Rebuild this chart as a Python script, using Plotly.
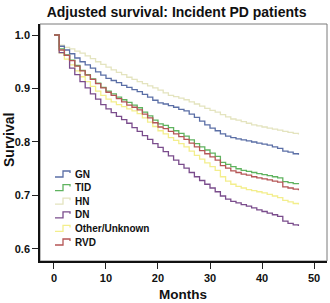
import plotly.graph_objects as go

months = list(range(0, 48))

surv_gn = [1.000, .979, .972, .965, .957, .950, .944, .938, .931, .925, .919, .915, .911, .906, .902, .898,
           .894, .889, .884, .878, .873, .871, .868, .865, .861, .858, .852, .846, .839, .832, .826, .821,
           .815, .811, .808, .806, .804, .802, .800, .798, .796, .794, .791, .788, .783, .781, .778, .776]
surv_tid = [1.000, .974, .963, .953, .943, .934, .926, .918, .910, .902, .895, .890, .884, .879, .874, .869,
            .864, .856, .849, .841, .834, .831, .827, .821, .816, .811, .804, .797, .791, .785, .779, .773,
            .762, .758, .754, .750, .747, .745, .743, .741, .739, .737, .735, .733, .726, .724, .722, .721]
surv_hn = [1.000, .981, .977, .974, .970, .966, .961, .956, .950, .945, .940, .935, .930, .926, .921, .917,
           .913, .909, .905, .901, .897, .892, .887, .885, .882, .879, .875, .871, .867, .863, .859, .856,
           .851, .847, .843, .841, .838, .835, .832, .830, .828, .826, .824, .822, .820, .818, .816, .814]
surv_dn = [1.000, .967, .962, .938, .926, .913, .901, .890, .880, .870, .862, .855, .848, .842, .835, .827,
           .820, .812, .805, .797, .790, .782, .774, .766, .758, .751, .743, .735, .728, .721, .714, .707,
           .699, .693, .689, .686, .683, .680, .677, .673, .670, .667, .664, .661, .652, .648, .645, .643]
surv_other = [1.000, .966, .955, .944, .933, .922, .913, .904, .895, .887, .880, .875, .870, .866, .862, .858,
              .853, .845, .837, .829, .821, .815, .808, .803, .797, .791, .783, .775, .768, .761, .754, .747,
              .735, .727, .721, .717, .714, .711, .709, .707, .705, .702, .699, .696, .691, .688, .685, .683]
surv_rvd = [1.000, .972, .962, .952, .942, .933, .925, .917, .909, .901, .893, .887, .881, .875, .869, .865,
            .860, .852, .845, .836, .828, .825, .820, .815, .810, .805, .798, .791, .784, .778, .772, .766,
            .756, .751, .746, .743, .740, .738, .735, .733, .731, .729, .727, .725, .716, .714, .712, .710]

group_names = ["GN", "TID", "HN", "DN", "Other/Unknown", "RVD"]
group_values = [surv_gn, surv_tid, surv_hn, surv_dn, surv_other, surv_rvd]
group_colors = ["#5b6fa6", "#5fb35f", "#e4e4bf", "#7a4c8c", "#f3ee8c", "#b55656"]

y_ticks = [0.6, 0.7, 0.8, 0.9, 1.0]
x_ticks = [0, 10, 20, 30, 40, 50]

W, H = 330, 303
ML, MR, MT, MB = 40, 3, 24, 42
PW, PH = W - ML - MR, H - MT - MB

fig = go.Figure()
draw_order = [2, 0, 4, 3, 1, 5]
for i in draw_order:
    fig.add_trace(go.Scatter(
        x=months, y=group_values[i], mode="lines", name=group_names[i],
        line=dict(color=group_colors[i], width=1.3, shape="hv"),
        showlegend=False,
    ))

def px_x(p):
    return (p - ML) / PW

def px_y(p):
    return (H - MB - p) / PH

shapes = [dict(type="rect", xref="paper", yref="paper", x0=0, x1=1, y0=0, y1=1,
               line=dict(color="#7a7a7a", width=1), layer="below")]
annotations = []
# compact legend with step-shaped symbols
for k, (nm, col) in enumerate(zip(group_names, group_colors)):
    yc = 174 + k * 13.6
    path = "M {a},{b} L {c},{b} L {c},{d} L {e},{d} L {e},{f}".format(
        a=px_x(55), b=px_y(yc + 3), c=px_x(63), d=px_y(yc - 3), e=px_x(70), f=px_y(yc - 1))
    shapes.append(dict(type="path", xref="paper", yref="paper", path=path,
                       line=dict(color=col, width=1.3)))
    annotations.append(dict(x=px_x(73), y=px_y(yc), xref="paper", yref="paper",
                            text="<b>" + nm + "</b>", showarrow=False, xanchor="left", yanchor="middle",
                            font=dict(size=10, color="#111", family="Liberation Sans, Arial")))

# axis titles
annotations.append(dict(x=px_x(183), y=px_y(294), xref="paper", yref="paper", text="<b>Months</b>",
                        showarrow=False, xanchor="center", yanchor="middle",
                        font=dict(size=13.5, color="#111", family="Liberation Sans, Arial")))
annotations.append(dict(x=px_x(9), y=px_y(140), xref="paper", yref="paper", text="<b>Survival</b>",
                        textangle=-90, showarrow=False, xanchor="center", yanchor="middle",
                        font=dict(size=14, color="#111", family="Liberation Sans, Arial")))

fig.update_layout(
    width=W, height=H,
    margin=dict(l=ML, r=MR, t=MT, b=MB),
    paper_bgcolor="white", plot_bgcolor="white",
    font=dict(family="Liberation Sans, Arial", color="#111"),
    title=dict(text="<b>Adjusted survival: Incident PD patients</b>", x=0.535, xanchor="center",
               y=1 - 12 / H, yanchor="middle", font=dict(size=14, color="#111")),
    xaxis=dict(range=[-2.69, 52.5], tickvals=x_ticks, ticktext=["<b>%d</b>" % v for v in x_ticks],
               ticks="outside", ticklen=6, tickwidth=1.2, tickcolor="#222",
               showline=True, linecolor="#111", linewidth=1.6, showgrid=False, zeroline=False,
               tickfont=dict(size=11)),
    yaxis=dict(range=[0.5775, 1.0206], tickvals=y_ticks, ticktext=["<b>%.1f</b>" % v for v in y_ticks],
               ticks="outside", ticklen=6, tickwidth=1.2, tickcolor="#222",
               showline=True, linecolor="#111", linewidth=1.6, showgrid=False, zeroline=False,
               tickfont=dict(size=11)),
    shapes=shapes,
    annotations=annotations,
)

fig.write_html("out.html", config={"displayModeBar": False},
               post_script="document.body.style.margin='0';document.body.style.overflow='hidden';")
